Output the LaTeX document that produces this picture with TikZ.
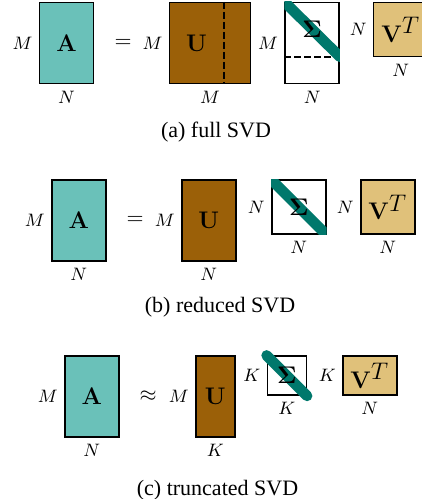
\documentclass[tikz,border=0pt]{standalone}
\usepackage[no-math]{fontspec}
\setmainfont{Liberation Serif}
\usepackage{amsmath}
\definecolor{matA}{RGB}{106,193,185}
\definecolor{matU}{RGB}{155,96,8}
\definecolor{matV}{RGB}{224,193,122}
\definecolor{sigband}{RGB}{0,120,108}
\usetikzlibrary{positioning,calc}
\newcommand{\dN}{27pt}
\newcommand{\dM}{40.5pt}
\newcommand{\dK}{19.5pt}
\newcommand{\VT}{$\mathbf{V}^{\textstyle T}$}

\begin{document}
\begin{tikzpicture}[
  mat/.style={rectangle,draw,line width=0.75pt,inner sep=0pt,
              font=\fontsize{12}{14}\selectfont},
  sym/.style={inner sep=0pt,font=\fontsize{12}{14}\selectfont},
  dimlbl/.style={inner sep=0pt,font=\fontsize{9}{11}\selectfont},
  rel/.style={inner sep=0pt,font=\fontsize{11}{13}\selectfont},
  diag/.style={line width=5.3pt,line cap=round,color=sigband},
  dashline/.style={line width=0.7pt,dash pattern=on 3.5pt off 1.5pt},
  subcap/.style={anchor=base,font=\fontsize{11}{13}\selectfont}
]
  \useasboundingbox (0,0) rectangle (211pt,-249.5pt);
  \clip (0,0) rectangle (211pt,-249.5pt);

  % (a) full SVD
  \node[mat,fill=matA,minimum width=\dN,minimum height=\dM,anchor=north west] (a1) at (19.4pt,-0.9pt) {$\mathbf{A}$};
  \node[dimlbl,left=3pt of a1]  {$M$};
  \node[dimlbl,below=3pt of a1] {$N$};
  \node[rel,right=9.9pt of a1] (eq1) {$=$};
  \node[mat,fill=matU,minimum width=\dM,minimum height=\dM,right=37.3pt of a1.north east,anchor=north west] (u1) {};
  \node[dimlbl,left=3pt of u1]  {$M$};
  \node[dimlbl,below=3pt of u1] {$M$};
  \draw[dashline] ($(u1.north west)!2/3!(u1.north east)$) -- ($(u1.south west)!2/3!(u1.south east)$);
  \node[sym] (tu1) at ($(u1.west)!1/3!(u1.east)$) {$\mathbf{U}$};
  \node[mat,fill=white,minimum width=\dN,minimum height=\dM,right=16.5pt of u1.north east,anchor=north west] (s1) {};
  \node[dimlbl,left=3pt of s1]  {$M$};
  \node[dimlbl,below=3pt of s1] {$N$};
  \draw[dashline] ($(s1.north west)!2/3!(s1.south west)$) -- ($(s1.north east)!2/3!(s1.south east)$);
  \begin{scope}
    \clip (s1.north west) rectangle (s1.south east);
    \draw[diag] (s1.north west) -- ($(s1.north east)!2/3!(s1.south east)$);
  \end{scope}
  \node[sym] (ts1) at ($(s1.north)!1/3!(s1.south)$) {$\mathbf{\Sigma}$};
  \node[mat,fill=matV,minimum width=\dN,minimum height=\dN,right=16.5pt of s1.north east,anchor=north west] (v1) {\VT};
  \node[dimlbl,left=3pt of v1]  {$N$};
  \node[dimlbl,below=3pt of v1] {$N$};
  \node[subcap] (c1) at (108pt,-68.85pt) {(a)\ full SVD};

  % (b) reduced SVD
  \node[mat,fill=matA,minimum width=\dN,minimum height=\dM,anchor=north west] (a2) at (25.5pt,-89.7pt) {$\mathbf{A}$};
  \node[dimlbl,left=3pt of a2]  {$M$};
  \node[dimlbl,below=3pt of a2] {$N$};
  \node[rel,right=9.9pt of a2] (eq2) {$=$};
  \node[mat,fill=matU,minimum width=\dN,minimum height=\dM,right=37.3pt of a2.north east,anchor=north west] (u2) {$\mathbf{U}$};
  \node[dimlbl,left=3pt of u2]  {$M$};
  \node[dimlbl,below=3pt of u2] {$N$};
  \node[mat,fill=white,minimum width=\dN,minimum height=\dN,right=17.2pt of u2.north east,anchor=north west] (s2) {};
  \node[dimlbl,left=3pt of s2]  {$N$};
  \node[dimlbl,below=3pt of s2] {$N$};
  \begin{scope}
    \clip (s2.north west) rectangle (s2.south east);
    \draw[diag] (s2.north west) -- (s2.south east);
  \end{scope}
  \node[sym] (ts2) at (s2) {$\mathbf{\Sigma}$};
  \node[mat,fill=matV,minimum width=\dN,minimum height=\dN,right=16.8pt of s2.north east,anchor=north west] (v2) {\VT};
  \node[dimlbl,left=3pt of v2]  {$N$};
  \node[dimlbl,below=3pt of v2] {$N$};
  \node[subcap] (c2) at (110pt,-156.35pt) {(b)\ reduced SVD};

  % (c) truncated SVD
  \node[mat,fill=matA,minimum width=\dN,minimum height=\dM,anchor=north west] (a3) at (32pt,-177.7pt) {$\mathbf{A}$};
  \node[dimlbl,left=3pt of a3]  {$M$};
  \node[dimlbl,below=3pt of a3] {$N$};
  \node[rel,right=9.9pt of a3] (eq3) {$\approx$};
  \node[mat,fill=matU,minimum width=\dK,minimum height=\dM,right=37.8pt of a3.north east,anchor=north west] (u3) {$\mathbf{U}$};
  \node[dimlbl,left=3pt of u3]  {$M$};
  \node[dimlbl,below=3pt of u3] {$K$};
  \node[mat,fill=white,minimum width=\dK,minimum height=\dK,right=15.5pt of u3.north east,anchor=north west] (s3) {};
  \node[dimlbl,left=3pt of s3]  {$K$};
  \node[dimlbl,below=3pt of s3] {$K$};
  \draw[diag] (s3.north west) -- (s3.south east);
  \node[sym] (ts3) at (s3) {$\mathbf{\Sigma}$};
  \node[mat,fill=matV,minimum width=\dN,minimum height=\dK,right=17.5pt of s3.north east,anchor=north west] (v3) {\VT};
  \node[dimlbl,left=3pt of v3]  {$K$};
  \node[dimlbl,below=3pt of v3] {$N$};
  \node[subcap] (c3) at (108.75pt,-247.5pt) {(c)\ truncated SVD};
\end{tikzpicture}
\end{document}
